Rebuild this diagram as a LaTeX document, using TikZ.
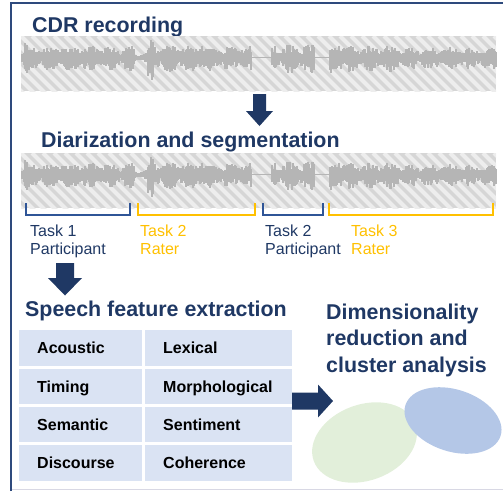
\documentclass[tikz,border=0pt]{standalone}
\usepackage{fontspec}
\setmainfont{Liberation Sans}
\definecolor{navy}{HTML}{1F3864}
\definecolor{framecol}{HTML}{2E4A7D}
\definecolor{brblue}{HTML}{2F5597}
\definecolor{bryel}{HTML}{FFC000}
\definecolor{cellfill}{HTML}{DAE3F3}
\definecolor{hatchbg}{HTML}{D6D6D6}
\definecolor{hatchln}{HTML}{EDEDED}
\definecolor{wavecol}{HTML}{B5B5B5}
\definecolor{ellgreen}{HTML}{E2EFDA}
\definecolor{ellblue}{HTML}{B4C7E7}
\definecolor{bottomln}{HTML}{D8D8E4}

\newcommand\hatchstrip[2]{%
  \begin{scope}
    \clip (21,#1) rectangle (496,#2);
    \fill[hatchbg] (21,#1) rectangle (496,#2);
    \foreach \k in {-7,...,45}{\draw[hatchln,line width=4pt] ({21+11*\k},#1) -- ++(60,60);}
  \end{scope}}

\newcommand\wavestrip[1]{%
  \pgfmathsetseed{4242}%
  \foreach \wa/\wb/\wamp in {22/24/9, 25/27/24, 28/60/12, 61/100/13, 101/134/12, 135/147/5, 148/153/20, 154/198/13, 199/203/19, 204/251/12, 252/271/0.7, 272/314/14, 315/329/0.7, 330/336/14, 337/342/22, 343/400/13, 401/496/11}{%
    \foreach \x in {\wa,...,\wb}{%
      \pgfmathsetmacro\wmod{0.5+0.5*abs(sin(\x*9))}%
      \pgfmathsetmacro\wup{max(0.6,\wamp*\wmod*(0.35+0.6*rnd))}%
      \pgfmathsetmacro\wdn{max(0.6,\wamp*\wmod*(0.4+0.75*rnd))}%
      \draw[wavecol,line width=1.2pt] (\x,#1-\wup) -- (\x,#1+\wdn);
    }%
  }}

\begin{document}
\begin{tikzpicture}[x=1pt,y=-1pt,
  title/.style={font=\fontsize{21.4}{26.5}\selectfont\bfseries, text=navy, inner sep=0pt, anchor=base west},
  tasklbl/.style={font=\fontsize{16}{18}\selectfont, inner sep=0pt, anchor=north west, align=left},
  bracket/.style={line width=2.2pt, line join=miter, line cap=butt},
  cell/.style={fill=cellfill, anchor=north west, inner ysep=0pt, inner xsep=18pt,
    minimum height=35.5pt, text height=11.5pt, text depth=0pt, align=left,
    font=\fontsize{16}{18}\selectfont\bfseries, text=black},
  cellA/.style={cell, minimum width=123pt, text width=87pt},
  cellB/.style={cell, minimum width=147pt, text width=111pt},
  blockarrow/.style={fill=navy, draw=none}]
\useasboundingbox (0,0) rectangle (503,491);

% frame
\draw[bottomln, line width=1.5pt] (12,489.5) -- (503,489.5);
\draw[framecol, line width=2pt] (11,491) -- (11,3) -- (503,3);

% titles
\node[title] (t1) at (32,32) {CDR recording};
\node[title] (t2) at (41,147) {Diarization and segmentation};
\node[title] (t3) at (25,316) {Speech feature extraction};
\node[title] (t4a) at (326,319) {Dimensionality};
\node[title] (t4b) at (326,345.5) {reduction and};
\node[title] (t4c) at (326,372) {cluster analysis};

% recordings
\hatchstrip{36}{91}
\wavestrip{57.5}
\hatchstrip{153}{208}
\wavestrip{174.5}

% brackets
\draw[bracket, brblue] (26,203) -- (26,215) -- (130,215) -- (130,203);
\draw[bracket, bryel] (138,203) -- (138,215) -- (255,215) -- (255,203);
\draw[bracket, brblue] (263,203) -- (263,215) -- (323,215) -- (323,203);
\draw[bracket, bryel] (329,203) -- (329,215) -- (493,215) -- (493,203);

% task labels
\node[tasklbl, text=navy] (l1) at (30,224.4) {Task 1\\Participant};
\node[tasklbl, text=bryel] (l2) at (140,224.4) {Task 2\\Rater};
\node[tasklbl, text=navy] (l3) at (265,224.4) {Task 2\\Participant};
\node[tasklbl, text=bryel] (l4) at (351,224.4) {Task 3\\Rater};

% block arrows
\fill[blockarrow] (253,94) -- (266,94) -- (266,111) -- (273,111) -- (259.5,126) -- (246,111) -- (253,111) -- cycle;
\fill[blockarrow] (56,263) -- (74,263) -- (74,278) -- (82,278) -- (65,295.5) -- (48,278) -- (56,278) -- cycle;
\fill[blockarrow] (292,392.5) -- (318,392.5) -- (318,384.5) -- (333,401) -- (318,417.5) -- (318,409.5) -- (292,409.5) -- cycle;

% feature table
\node[cellA] (acoustic) at (19,330) {Acoustic};
\node[cellB] (lexical) at (145,330) {Lexical};
\node[cellA] (timing) at (19,368.3) {Timing};
\node[cellB] (morph) at (145,368.3) {Morphological};
\node[cellA] (semantic) at (19,406.6) {Semantic};
\node[cellB] (sentiment) at (145,406.6) {Sentiment};
\node[cellA] (discourse) at (19,444.9) {Discourse};
\node[cellB] (coherence) at (145,444.9) {Coherence};

% clusters
\fill[ellgreen, rotate around={20:(364.5,442.5)}] (364.5,442.5) ellipse [x radius=54pt, y radius=38pt];
\fill[ellblue, rotate around={-18:(453,420.5)}] (453,420.5) ellipse [x radius=50pt, y radius=31pt];
\end{tikzpicture}
\end{document}
